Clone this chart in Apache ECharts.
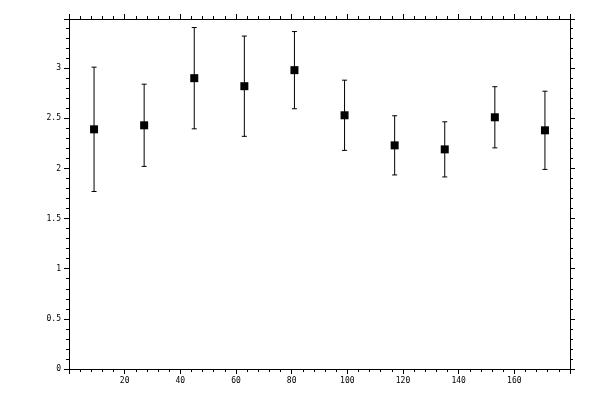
<!DOCTYPE html>
<html>
<head>
<meta charset="utf-8">
<script src="https://cdn.jsdelivr.net/npm/echarts@6/dist/echarts.min.js"></script>
<style>
  html, body { margin: 0; padding: 0; background: #fff; }
  #chart { width: 600px; height: 400px; }
</style>
</head>
<body>
<div id="chart"></div>
<script>
// bin centres, means and half-widths of the error bars
var xValues = [9, 27, 45, 63, 81, 99, 117, 135, 153, 171];
var yValues = [2.39, 2.43, 2.90, 2.82, 2.98, 2.53, 2.23, 2.19, 2.51, 2.38];
var yErrors = [0.62, 0.41, 0.505, 0.50, 0.385, 0.35, 0.295, 0.275, 0.305, 0.39];

var xMin = 0, xMax = 180, yMin = 0, yMax = 3.49;

var points = xValues.map(function (x, i) { return [x, yValues[i]]; });
var bars = xValues.map(function (x, i) {
  return [x, yValues[i] - yErrors[i], yValues[i] + yErrors[i]];
});

var font = { fontFamily: 'DejaVu Sans Mono', fontSize: 8, color: '#000' };

function axisX(pos, labels) {
  return {
    type: 'value', position: pos, min: xMin, max: xMax, interval: 20,
    axisLine: { show: true, onZero: false, lineStyle: { color: '#000', width: 1 } },
    axisTick: { show: true, inside: false, length: 5, lineStyle: { color: '#000' } },
    minorTick: { show: true, splitNumber: 5, length: 3, lineStyle: { color: '#000' } },
    axisLabel: Object.assign({ show: labels, margin: 8, showMinLabel: false, showMaxLabel: false }, font),
    splitLine: { show: false }
  };
}

function axisY(pos, labels) {
  return {
    type: 'value', position: pos, min: yMin, max: yMax, interval: 0.5,
    axisLine: { show: true, onZero: false, lineStyle: { color: '#000', width: 1 } },
    axisTick: { show: true, inside: false, length: 5, lineStyle: { color: '#000' } },
    minorTick: { show: true, splitNumber: 5, length: 3, lineStyle: { color: '#000' } },
    axisLabel: Object.assign({ show: labels, margin: 8, showMaxLabel: false }, font),
    splitLine: { show: false }
  };
}

var myChart = echarts.init(document.getElementById('chart'));
var option = {
  animation: false,
  backgroundColor: '#fff',
  grid: { left: 69, top: 19, width: 501, height: 350 },
  xAxis: [axisX('bottom', true), axisX('top', false)],
  yAxis: [axisY('left', true), axisY('right', false)],
  series: [
    {
      type: 'custom',
      xAxisIndex: 0,
      yAxisIndex: 0,
      data: bars,
      renderItem: function (params, api) {
        var lo = api.coord([api.value(0), api.value(1)]);
        var hi = api.coord([api.value(0), api.value(2)]);
        var cap = 2.5;
        var style = { stroke: '#000', lineWidth: 1 };
        return {
          type: 'group',
          children: [
            { type: 'line', shape: { x1: hi[0], y1: hi[1], x2: lo[0], y2: lo[1] }, style: style },
            { type: 'line', shape: { x1: hi[0] - cap, y1: hi[1], x2: hi[0] + cap, y2: hi[1] }, style: style },
            { type: 'line', shape: { x1: lo[0] - cap, y1: lo[1], x2: lo[0] + cap, y2: lo[1] }, style: style }
          ]
        };
      },
      z: 2
    },
    {
      type: 'scatter',
      xAxisIndex: 0,
      yAxisIndex: 0,
      data: points,
      symbol: 'rect',
      symbolSize: 8,
      itemStyle: { color: '#000', opacity: 1 },
      z: 3
    }
  ]
};
myChart.setOption(option);
</script>
</body>
</html>
